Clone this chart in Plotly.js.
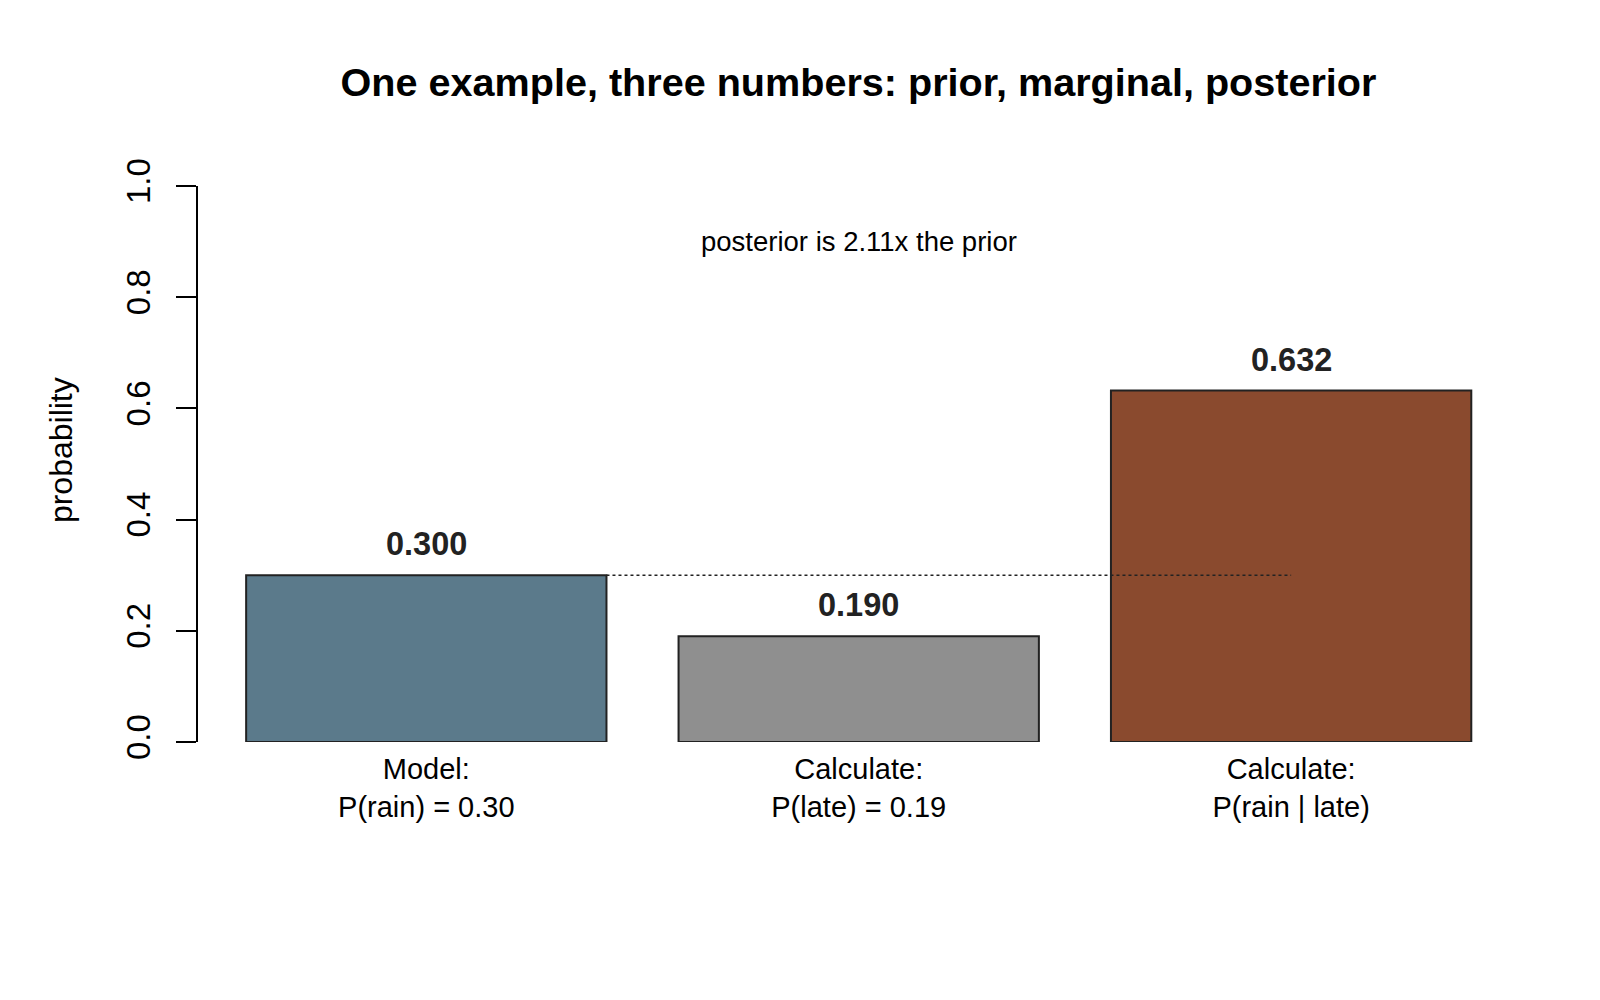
<!DOCTYPE html>
<html>
<head>
<meta charset="utf-8">
<script src="https://cdn.plot.ly/plotly-3.0.1.min.js"></script>
<style>
  body { margin: 0; background: #fff; }
  #chart { width: 1600px; height: 1000px; }
</style>
</head>
<body>
<div id="chart"></div>
<script>
// bars: prior, marginal, posterior
var positions = [0, 1, 2];
var stepLabels = ['Model:<br>P(rain) = 0.30', 'Calculate:<br>P(late) = 0.19', 'Calculate:<br>P(rain | late)'];
var probs = [0.300, 0.190, 0.632];
var barColors = ['#5b7a8b', '#8f8f8f', '#8a4a2e'];
var yTicks = [0, 0.2, 0.4, 0.6, 0.8, 1.0];

var font = 'Liberation Sans, Arial, sans-serif';
var barWidth = 1 / 1.2;   // R barplot: width 1, space 0.2

var bars = {
    type: 'bar',
    x: positions,
    y: probs,
    width: barWidth,
    marker: { color: barColors, line: { color: '#222222', width: 2 } },
    hoverinfo: 'none',
    showlegend: false
};

// dotted reference line at the prior, from right edge of bar 1 to centre of bar 3
var priorLine = {
    type: 'scatter',
    mode: 'lines',
    x: [positions[0] + barWidth / 2, positions[2]],
    y: [probs[0], probs[0]],
    line: { color: '#222222', width: 1.6, dash: 'dot' },
    hoverinfo: 'none',
    showlegend: false
};

var valueNotes = positions.map((p, i) => ({
    x: p, y: probs[i], xref: 'x', yref: 'y',
    text: '<b>' + probs[i].toFixed(3) + '</b>',
    showarrow: false, yanchor: 'bottom', yshift: 11,
    font: { family: font, size: 32.5, color: '#222222' }
}));

var ratio = (probs[2] / probs[0]).toFixed(2);

var layout = {
    width: 1600, height: 1000,
    paper_bgcolor: '#ffffff', plot_bgcolor: '#ffffff',
    margin: { l: 198, r: 81, t: 186, b: 258 },
    font: { family: font, color: '#000000' },
    title: {
        text: '<b>One example, three numbers: prior, marginal, posterior</b>',
        font: { family: font, size: 39.6, color: '#000000' },
        x: 0.5, xref: 'paper', xanchor: 'center',
        y: 0.918, yref: 'container', yanchor: 'middle'
    },
    xaxis: {
        range: [-0.528, 2.527],
        tickvals: positions, ticktext: stepLabels,
        showline: false, showgrid: false, zeroline: false, ticks: '',
        ticklabelstandoff: 7,
        tickfont: { family: font, size: 29, color: '#000000' },
        fixedrange: true
    },
    yaxis: {
        range: [0, 1],
        tickvals: yTicks, ticktext: yTicks.map(v => v.toFixed(1)),
        tickangle: -90,
        showline: true, linecolor: '#000000', linewidth: 2,
        ticks: 'outside', ticklen: 20, tickwidth: 2, tickcolor: '#000000',
        ticklabelstandoff: 13,
        showgrid: false, zeroline: false,
        tickfont: { family: font, size: 33, color: '#000000' },
        fixedrange: true
    },
    annotations: valueNotes.concat([
        {
            x: positions[1], y: 0.9, xref: 'x', yref: 'y',
            text: 'posterior is ' + ratio + 'x the prior',
            showarrow: false,
            font: { family: font, size: 27.5, color: '#000000' }
        },
        {
            x: 0, xref: 'paper', xanchor: 'center',
            y: 0.525, yref: 'paper', yanchor: 'middle',
            text: 'probability', textangle: -90, showarrow: false,
            font: { family: font, size: 32, color: '#000000' }
        }
    ])
};
// the y label sits at a fixed pixel column left of the plot
layout.annotations[layout.annotations.length - 1].x = (61 - 198) / (1600 - 198 - 81);

Plotly.newPlot('chart', [bars, priorLine], layout, { staticPlot: true, displayModeBar: false });
</script>
</body>
</html>
